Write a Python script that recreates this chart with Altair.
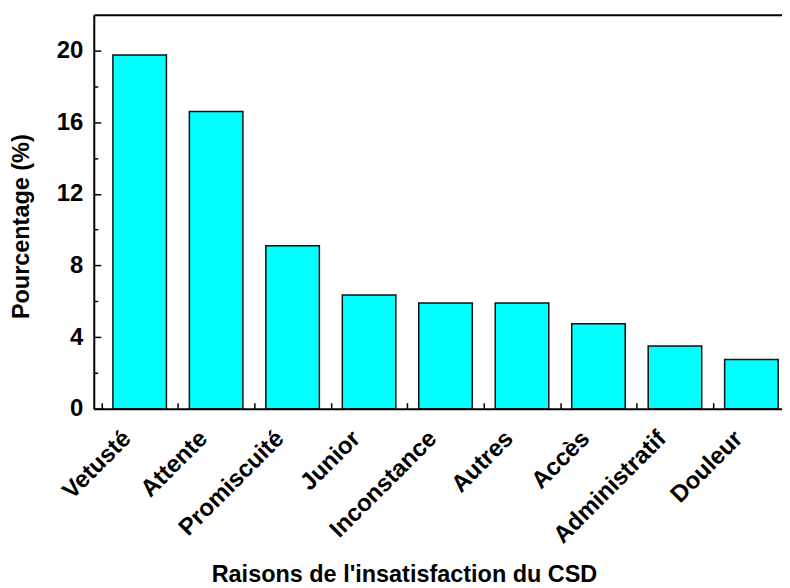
import altair as alt
import pandas as pd

categories = ["Vetusté", "Attente", "Promiscuité", "Junior", "Inconstance",
              "Autres", "Accès", "Administratif", "Douleur"]
values = [19.75, 16.6, 9.1, 6.35, 5.9, 5.9, 4.75, 3.5, 2.75]
positions = list(range(1, len(categories) + 1))
y_major_ticks = [0, 4, 8, 12, 16, 20]
y_minor_ticks = [2, 6, 10, 14, 18]
x_band_edges = [p - 0.5 for p in positions]

df = pd.DataFrame({"cat": categories, "value": values, "pos": positions})

FONT = "Liberation Sans"
xdom = [0.4, 9.4]
ydom = [0, 22]
xscale = alt.Scale(domain=xdom, nice=False, zero=False)
yscale = alt.Scale(domain=ydom, nice=False)

names_js = "[" + ",".join("'" + c + "'" for c in categories) + "]"

base = alt.Chart(df)

bars = base.transform_calculate(
    x0="datum.pos - 0.35", x1="datum.pos + 0.35"
).mark_bar(fill="#00FFFF", stroke="#111111", strokeWidth=1.5).encode(
    x=alt.X("x0:Q", scale=xscale,
            axis=alt.Axis(orient="bottom", values=positions,
                          labelExpr=names_js + "[datum.value - 1]",
                          labelAngle=-45, labelAlign="right", labelBaseline="middle",
                          labelPadding=26, labelOffset=-13,
                          labelFont=FONT, labelFontSize=24, labelFontWeight="bold",
                          labelColor="black",
                          ticks=False, tickSize=0, grid=False,
                          domain=True, domainColor="black", domainWidth=2,
                          title="Raisons de l'insatisfaction du CSD",
                          titleFont=FONT, titleFontSize=23.5, titleFontWeight="bold",
                          titleColor="black", titleX=311, titleY=173,
                          titleBaseline="alphabetic", titleAlign="center",
                          labelOverlap=False)),
    x2="x1:Q",
    y=alt.Y("value:Q", scale=yscale,
            axis=alt.Axis(orient="left", values=y_major_ticks,
                          labelFont=FONT, labelFontSize=24, labelFontWeight="bold",
                          labelColor="black", labelPadding=11,
                          ticks=False, tickSize=0, grid=False,
                          domain=True, domainColor="black", domainWidth=2,
                          title="Pourcentage (%)",
                          titleFont=FONT, titleFontSize=23.5, titleFontWeight="bold",
                          titleColor="black", titleX=-60, titleY=212,
                          titleAngle=270, titleAlign="center", titleBaseline="bottom")),
    y2=alt.datum(0),
)

tick_layer1 = base.mark_point(opacity=0, size=1).encode(
    x=alt.X("pos:Q", scale=xscale,
            axis=alt.Axis(orient="bottom", offset=-6, values=x_band_edges,
                          labels=False, domain=False, grid=False,
                          ticks=True, tickSize=6, tickWidth=1.5, tickColor="black",
                          title="")),
    y=alt.Y("value:Q", scale=yscale,
            axis=alt.Axis(orient="left", offset=-7, values=y_major_ticks,
                          labels=False, domain=False, grid=False,
                          ticks=True, tickSize=7, tickWidth=1.5, tickColor="black",
                          title="")),
)

tick_layer2 = base.mark_point(opacity=0, size=1).encode(
    x=alt.X("pos:Q", scale=xscale,
            axis=alt.Axis(orient="top", values=x_band_edges,
                          labels=False, domain=True, domainColor="black", domainWidth=2,
                          grid=False, ticks=False, tickSize=0, title="")),
    y=alt.Y("value:Q", scale=yscale,
            axis=alt.Axis(orient="left", offset=-4, values=y_minor_ticks,
                          labels=False, domain=False, grid=False,
                          ticks=True, tickSize=4, tickWidth=1.5, tickColor="black",
                          title="")),
)

chart = alt.layer(bars, tick_layer1, tick_layer2).resolve_axis(
    x="independent", y="independent"
).properties(
    width=690, height=395,
    autosize=alt.AutoSizeParams(type="none"),
    padding={"left": 86, "top": 6, "right": 0, "bottom": 179},
    background="white",
).configure_view(stroke=None)

chart.save("out.html", embed_options={"renderer": "svg", "actions": False})
